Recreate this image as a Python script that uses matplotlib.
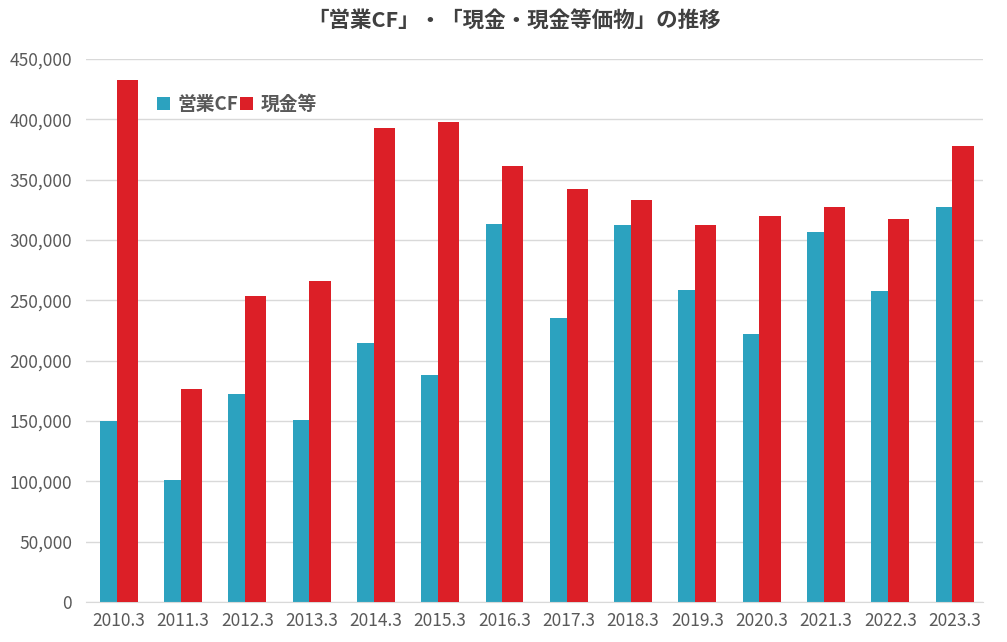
import numpy as np
import matplotlib.pyplot as plt
from matplotlib.ticker import FuncFormatter

plt.rcParams['font.family'] = ['Noto Sans CJK JP', 'DejaVu Sans']

# data
years = ['2010.3', '2011.3', '2012.3', '2013.3', '2014.3', '2015.3', '2016.3',
         '2017.3', '2018.3', '2019.3', '2020.3', '2021.3', '2022.3', '2023.3']
cf = [150000, 101000, 172400, 150800, 214600, 188100, 313300,
      235400, 312400, 258600, 222100, 306600, 257700, 327400]
cash = [432600, 176500, 253600, 266000, 392800, 397800, 361300,
        342300, 333200, 312400, 319900, 327400, 317400, 377900]

fig = plt.figure(figsize=(10.07, 6.42), dpi=100)
ax = fig.add_axes([0.0854, 0.0623, 0.8906, 0.8457])

x = np.arange(len(years))
w = 0.33
ax.bar(x - 0.13, cf, w, color='#2CA2BF', label='営業CF', zorder=2)
ax.bar(x + 0.13, cash, w, color='#DC1F27', label='現金等', zorder=3)

ax.set_xlim(-0.51, 13.44)
ax.set_ylim(0, 450000)
ax.set_yticks(np.arange(0, 450001, 50000))
ax.yaxis.set_major_formatter(FuncFormatter(lambda v, p: f'{int(v):,}'))
ax.set_xticks(x)
ax.set_xticklabels(years)
ax.grid(axis='y', color='#D9D9D9', linewidth=1, zorder=0)
for s in ['top', 'right', 'left']:
    ax.spines[s].set_visible(False)
ax.spines['bottom'].set_color('#D9D9D9')
ax.tick_params(length=0, labelsize=12.5, colors='#595959', pad=7)
ax.tick_params(axis='y', pad=10)

ax.legend(loc='upper left', bbox_to_anchor=(0.06, 0.965), ncol=2, frameon=False,
          handlelength=0.7, handleheight=0.7, handletextpad=0.4, columnspacing=0.1,
          prop={'size': 13.5, 'weight': 'bold'}, labelcolor='#595959')

fig.suptitle('「営業CF」・「現金・現金等価物」の推移', x=0.51, y=0.985,
             fontsize=15.5, fontweight='bold', color='#404040')

fig.savefig('out.png', dpi=100)
